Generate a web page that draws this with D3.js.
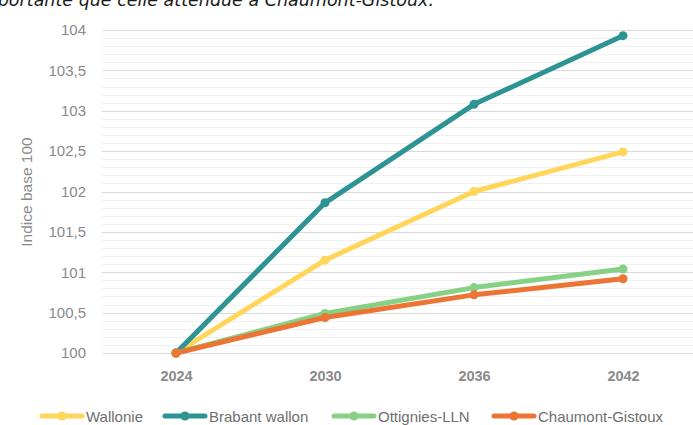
<!DOCTYPE html>
<html>
<head>
<meta charset="utf-8">
<script src="https://cdn.jsdelivr.net/npm/d3@7"></script>
<style>
  body { margin: 0; background: #fff; }
  svg { display: block; }
</style>
</head>
<body>
<svg width="693" height="425"></svg>
<script>
const years = ["2024", "2030", "2036", "2042"]
const wallonie = [100, 101.15, 102.0, 102.49]
const brabantWallon = [100, 101.86, 103.08, 103.93]
const ottignies = [100, 100.49, 100.81, 101.04]
const chaumont = [100, 100.44, 100.72, 100.92]
const yTicks = [100, 100.5, 101, 101.5, 102, 102.5, 103, 103.5, 104]

const series = [
    { name: "Wallonie", values: wallonie, color: "#FFD55A" },
    { name: "Brabant wallon", values: brabantWallon, color: "#2E9393" },
    { name: "Ottignies-LLN", values: ottignies, color: "#86D186" },
    { name: "Chaumont-Gistoux", values: chaumont, color: "#EC7434" }
]

const svg = d3.select("svg")
const font = "'Liberation Sans', Arial, sans-serif"
const tickColor = "#8a8a8a"

// text cut at the top of the picture
svg.append("text")
    .attr("x", 434).attr("y", 6)
    .attr("text-anchor", "end")
    .attr("font-family", "'DejaVu Sans', sans-serif")
    .attr("font-style", "italic")
    .attr("font-size", 17.5)
    .attr("fill", "#1a1a1a")
    .text("est plus importante que celle attendue à Chaumont-Gistoux.")

const x = d3.scalePoint().domain(years).range([176, 623])
const y = d3.scaleLinear().domain([100, 104]).range([353, 30])

// grid: minor every 0.1, major every 0.5
const minor = d3.range(0, 41).map(i => 100 + i / 10)
svg.append("g").selectAll("line")
    .data(minor)
    .enter().append("line")
    .attr("x1", 102).attr("x2", 693)
    .attr("y1", d => Math.round(y(d)) + 0.5)
    .attr("y2", d => Math.round(y(d)) + 0.5)
    .attr("stroke", (d, i) => i % 5 == 0 ? "#d9d9d9" : "#f0f0f0")
    .attr("stroke-width", 1)

// y axis labels
const yAxis = svg.append("g")
    .attr("transform", "translate(86,0)")
    .call(d3.axisLeft(y).tickValues(yTicks).tickSize(0).tickPadding(0)
        .tickFormat(d => String(d).replace(".", ",")))
yAxis.select(".domain").remove()
yAxis.selectAll("text")
    .attr("font-family", font)
    .attr("font-size", 15)
    .attr("fill", tickColor)

svg.append("text")
    .attr("transform", "translate(32,192) rotate(-90)")
    .attr("text-anchor", "middle")
    .attr("font-family", font)
    .attr("font-size", 15.5)
    .attr("fill", tickColor)
    .text("Indice base 100")

// x axis labels
const xAxis = svg.append("g")
    .attr("transform", "translate(0,370)")
    .call(d3.axisBottom(x).tickSize(0).tickPadding(0))
xAxis.select(".domain").remove()
xAxis.selectAll("text")
    .attr("dy", "0.75em")
    .attr("font-family", font)
    .attr("font-size", 14.5)
    .attr("font-weight", "bold")
    .attr("fill", tickColor)

// lines
const line = d3.line()
    .x((d, i) => x(years[i]))
    .y(d => y(d))

const groups = svg.append("g").selectAll("g")
    .data(series)
    .enter().append("g")

groups.append("path")
    .attr("d", s => line(s.values))
    .attr("fill", "none")
    .attr("stroke", s => s.color)
    .attr("stroke-width", 5)
    .attr("stroke-linejoin", "round")
    .attr("stroke-linecap", "round")

groups.selectAll("circle")
    .data(s => s.values.map((v, i) => ({ v, i, color: s.color })))
    .enter().append("circle")
    .attr("cx", d => x(years[d.i]))
    .attr("cy", d => y(d.v))
    .attr("r", 4.5)
    .attr("fill", d => d.color)

// legend
const legendX = [40, 163, 332, 492]
const legend = svg.append("g").selectAll("g")
    .data(series)
    .enter().append("g")
    .attr("transform", (s, i) => "translate(" + legendX[i] + ",416)")

legend.append("line")
    .attr("x1", 2).attr("x2", 42)
    .attr("stroke", s => s.color)
    .attr("stroke-width", 5)
    .attr("stroke-linecap", "round")
legend.append("circle")
    .attr("cx", 22).attr("r", 4.5)
    .attr("fill", s => s.color)
legend.append("text")
    .attr("x", 46).attr("y", 5.5)
    .attr("font-family", font)
    .attr("font-size", 15)
    .attr("fill", "#6f6f6f")
    .text(s => s.name)
</script>
</body>
</html>
